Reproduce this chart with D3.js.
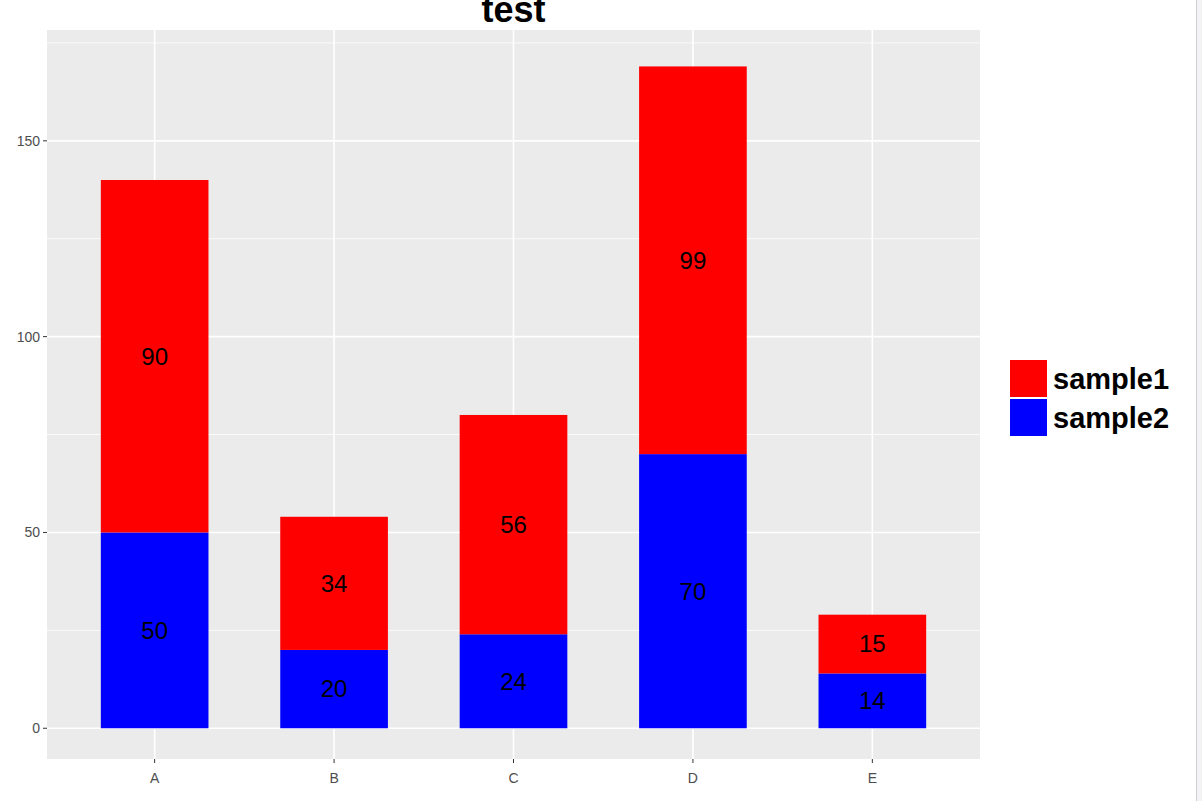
<!DOCTYPE html>
<html><head><meta charset="utf-8">
<script src="https://cdn.jsdelivr.net/npm/d3@7"></script>
<style>body{margin:0;background:#fff;overflow:hidden}svg{display:block}</style>
</head><body>
<svg id="c" width="1202" height="801"></svg>
<script>
const categories = ["A","B","C","D","E"];
const seriesNames = ["sample1","sample2"];
const sample1 = [90,34,56,99,15];
const sample2 = [50,20,24,70,14];
const seriesColors = ["#ff0000","#0000ff"];
const yTicks = [0,50,100,150];
const yMinor = [25,75,125,175];
const title = "test";

const svg = d3.select("#c");
const P = {l:47, r:980, t:30, b:759};
svg.append("rect").attr("x",1196).attr("y",0).attr("width",6).attr("height",801).attr("fill","#f3f3f5");
svg.append("line").attr("x1",1196.5).attr("x2",1196.5).attr("y1",0).attr("y2",801).attr("stroke","#d0d0d0");

// ggplot discrete expansion: 0.6 units each side
const x = d3.scalePoint().domain(categories).range([P.l, P.r]).padding(0.6);
const step = x.step();
const barW = step*0.6;
const y = d3.scaleLinear().domain([-7.85,178.3]).range([P.b, P.t]);

svg.append("rect").attr("x",P.l).attr("y",P.t).attr("width",P.r-P.l).attr("height",P.b-P.t).attr("fill","#ebebeb");
const g = svg.append("g");
yMinor.forEach(v=>g.append("line").attr("x1",P.l).attr("x2",P.r).attr("y1",y(v)).attr("y2",y(v)).attr("stroke","#fff").attr("stroke-width",0.9).attr("opacity",0.9));
yTicks.forEach(v=>g.append("line").attr("x1",P.l).attr("x2",P.r).attr("y1",y(v)).attr("y2",y(v)).attr("stroke","#fff").attr("stroke-width",1.6));
categories.forEach(c=>g.append("line").attr("x1",x(c)).attr("x2",x(c)).attr("y1",P.t).attr("y2",P.b).attr("stroke","#fff").attr("stroke-width",1.6));

const stackData = categories.map((c,i)=>({cat:c, sample1:sample1[i], sample2:sample2[i]}));
const stacked = d3.stack().keys(["sample2","sample1"])(stackData);
stacked.forEach(layer=>{
  const col = seriesColors[seriesNames.indexOf(layer.key)];
  svg.append("g").selectAll("rect").data(layer).join("rect")
    .attr("x",d=>x(d.data.cat)-barW/2).attr("width",barW)
    .attr("y",d=>y(d[1])).attr("height",d=>y(d[0])-y(d[1])).attr("fill",col);
  svg.append("g").selectAll("text").data(layer).join("text")
    .attr("x",d=>x(d.data.cat)).attr("y",d=>y((d[0]+d[1])/2)).attr("dy","0.35em")
    .attr("text-anchor","middle").attr("font-family","Liberation Sans, Arial, sans-serif")
    .attr("font-size",24).attr("fill","#000").text(d=>d.data[layer.key]);
});

// axes
const ax = svg.append("g").attr("font-family","Liberation Sans, Arial, sans-serif");
yTicks.forEach(v=>{
  ax.append("line").attr("x1",P.l-4).attr("x2",P.l).attr("y1",y(v)).attr("y2",y(v)).attr("stroke","#333").attr("stroke-width",1);
  ax.append("text").attr("x",P.l-7).attr("y",y(v)).attr("dy","0.35em").attr("text-anchor","end").attr("font-size",14).attr("fill","#4d4d4d").text(v);
});
categories.forEach(c=>{
  ax.append("line").attr("x1",x(c)).attr("x2",x(c)).attr("y1",P.b).attr("y2",P.b+4).attr("stroke","#333").attr("stroke-width",1);
  ax.append("text").attr("x",x(c)).attr("y",P.b+24).attr("text-anchor","middle").attr("font-size",14).attr("fill","#4d4d4d").text(c);
});

svg.append("text").attr("x",(P.l+P.r)/2).attr("y",22).attr("text-anchor","middle")
  .attr("font-family","Liberation Sans, Arial, sans-serif").attr("font-weight","bold").attr("font-size",36).text(title);

// legend
const lg = svg.append("g").attr("font-family","Liberation Sans, Arial, sans-serif");
seriesNames.forEach((s,i)=>{
  const yy = 360 + i*39;
  lg.append("rect").attr("x",1010).attr("y",yy).attr("width",37).attr("height",37).attr("fill",seriesColors[i]);
  lg.append("text").attr("x",1053).attr("y",yy+18.5).attr("dy","0.36em").attr("font-size",29).attr("font-weight","bold").text(s);
});
</script>
</body></html>
